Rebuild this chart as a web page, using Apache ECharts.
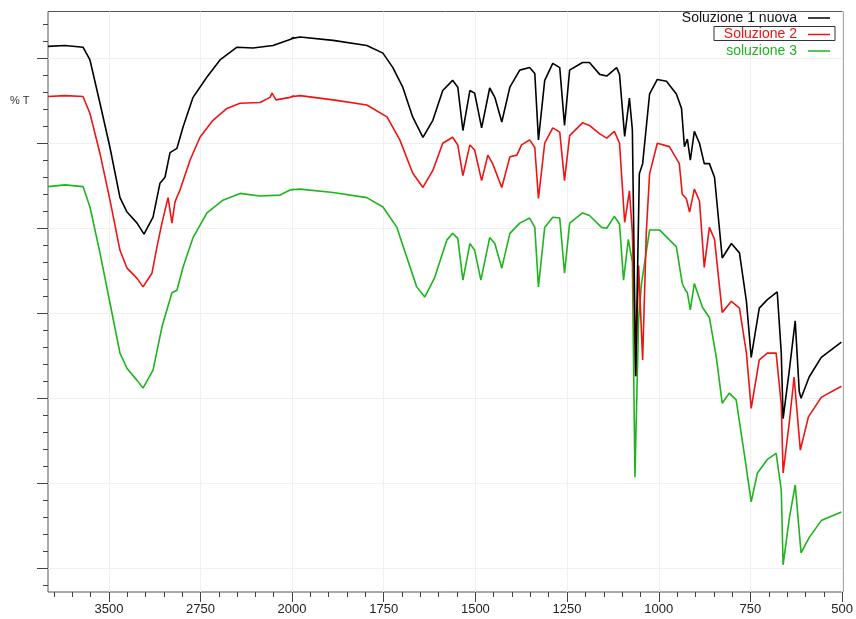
<!DOCTYPE html>
<html><head><meta charset="utf-8">
<script src="https://cdn.jsdelivr.net/npm/echarts@6/dist/echarts.min.js"></script>
<style>html,body{margin:0;padding:0;background:#fff}#c{width:856px;height:619px}</style>
</head><body><div id="c"></div>
<script>
// Series names
const seriesNames = ['Soluzione 1 nuova', 'Soluzione 2', 'soluzione 3'];

// Soluzione 1 nuova (black): wavenumber (cm-1) and %T (arbitrary offset units)
const blackWn = [4000,3861,3713,3656,3574,3492,3410,3352,3270,3213,3139,3082,3041,3000,2943,2893,2811,2697,2590,2451,2320,2156,2016,1978,1888,1796,1752,1725,1698,1671,1643,1616,1589,1562,1548,1534,1515,1502,1483,1461,1447,1428,1406,1379,1352,1338,1328,1311,1289,1270,1257,1243,1208,1189,1161,1142,1115,1107,1093,1080,1072,1063,1053,1044,1025,1004,979,952,938,930,922,914,903,889,876,862,848,827,802,780,761,748,726,704,677,666,661,644,628,617,612,590,557,502];
const blackT  = [61.4,61.5,61.3,59.8,54.7,49.5,43.6,41.9,40.6,39.3,41.3,45.3,46.0,48.9,49.4,51.9,55.4,57.8,59.8,61.3,61.2,61.5,62.2,62.5,62.1,61.5,60.6,58.9,56.6,53.1,50.7,52.7,56.2,57.4,56.6,51.5,56.2,55.9,51.8,56.5,55.4,52.5,56.6,58.6,58.9,58.2,50.4,57.4,59.4,58.9,52.1,58.6,59.5,59.5,58.1,57.9,58.9,58.1,50.8,55.3,51.6,22.6,46.4,47.6,55.8,57.5,57.3,55.8,54.1,49.6,50.5,48.0,51.4,50.0,47.6,47.6,46.0,36.5,38.2,37.1,31.4,24.8,30.6,31.6,32.5,25.3,17.6,23.3,29.1,20.8,20.0,22.5,24.8,26.6];

// Soluzione 2 (red)
const redWn = [4000,3861,3713,3656,3574,3492,3410,3352,3270,3221,3148,3107,3066,3016,2984,2959,2918,2836,2754,2648,2533,2426,2262,2180,2164,2131,2016,1978,1888,1796,1741,1706,1671,1643,1616,1589,1562,1548,1534,1515,1502,1483,1466,1453,1428,1406,1387,1374,1352,1338,1328,1311,1289,1270,1257,1243,1208,1189,1161,1142,1121,1107,1093,1080,1072,1063,1055,1044,1034,1025,1004,971,944,936,925,916,903,889,876,862,848,827,802,780,761,748,726,704,680,666,661,644,631,614,592,557,502];
const redT  = [55.5,55.6,55.5,53.5,48.8,43.3,37.4,35.3,34.1,33.1,34.7,37.8,40.6,43.6,40.6,43.1,44.5,48.0,50.7,52.7,54.1,54.7,54.8,55.4,55.9,55.1,55.4,55.6,55.1,54.5,53.1,50.4,46.5,44.8,46.8,50.0,50.7,49.8,46.2,49.8,49.2,45.6,48.6,47.6,44.8,48.4,48.6,49.8,50.4,49.5,43.5,50.0,51.8,51.3,45.6,50.9,52.4,52.1,51.1,50.6,51.4,50.0,40.7,44.4,39.5,22.6,35.6,24.5,39.5,46.4,50.0,49.6,47.6,44.0,43.5,41.9,44.6,43.2,35.4,40.1,38.7,30.1,31.4,30.6,25.3,18.8,24.5,25.3,25.3,19.3,11.2,17.2,22.5,13.9,17.8,20.1,21.4];

// soluzione 3 (green)
const greenWn = [4000,3861,3713,3656,3574,3492,3410,3352,3270,3221,3139,3066,2984,2943,2893,2811,2697,2566,2426,2262,2098,2016,1978,1888,1796,1752,1714,1687,1660,1638,1611,1578,1562,1548,1534,1515,1502,1485,1461,1447,1428,1406,1379,1352,1338,1328,1311,1289,1270,1257,1243,1208,1189,1156,1142,1121,1107,1096,1083,1072,1065,1055,1047,1025,998,952,936,927,922,914,903,881,862,843,827,808,789,767,748,731,704,680,666,661,644,628,612,590,557,502];
const greenT  = [44.9,45.1,44.9,42.5,37.1,31.2,25.3,23.5,22.1,21.2,23.3,28.4,32.4,32.7,35.4,38.9,41.8,43.3,44.1,43.8,43.9,44.5,44.6,44.2,43.6,42.5,40.1,36.6,33.1,31.9,34.2,38.6,39.4,38.8,33.9,38.2,37.4,33.9,38.9,38.2,35.3,39.4,40.6,41.2,40.1,33.1,40.1,41.3,41.2,34.7,40.6,41.8,41.5,40.1,40.0,41.4,40.5,33.9,38.7,36.0,10.7,29.2,33.5,39.8,39.8,37.8,33.5,32.7,32.4,30.4,33.5,30.7,29.5,24.8,19.4,20.6,19.8,13.5,7.8,11.2,12.8,13.5,9.2,0.4,5.9,9.8,1.8,3.6,5.6,6.6];

// Tick values
const xLeftMajor = [3500, 2750];
const xLeftMinor = [3950, 3800, 3650, 3350, 3200, 3050, 2900, 2600, 2450, 2300, 2150];
const yMajor = [0, 10, 20, 30, 40, 50, 60];
const yMinor = [-2, 2, 4, 6, 8, 12, 14, 16, 18, 22, 24, 26, 28, 32, 34, 36, 38, 42, 44, 46, 48, 52, 54, 56, 58, 62, 64];

const YMIN = -2.8, YMAX = 65.5;
const colors = ['#000000', '#ee1414', '#1eb41e'];
const seriesData = [
  blackWn.map((w, i) => [w, blackT[i]]),
  redWn.map((w, i) => [w, redT[i]]),
  greenWn.map((w, i) => [w, greenT[i]])
];

const chart = echarts.init(document.getElementById('c'), null, {renderer: 'canvas'});
const font = 'Liberation Sans, Arial, Helvetica, sans-serif';
const tickColor = '#444';
const faint = '#f0f0f0';
const plain = function (v) { return String(v); };

const series = [];
[1, 2].forEach(function (g) {
  seriesNames.forEach(function (name, k) {
    series.push({
      name: name, type: 'line', xAxisIndex: g, yAxisIndex: g,
      data: seriesData[k], showSymbol: false, symbol: 'none',
      color: colors[k], lineStyle: {color: colors[k], width: 1.6},
      clip: true, z: 3 - k
    });
  });
});

const option = {
  animation: false,
  textStyle: {fontFamily: font},
  grid: [
    {left: 48, right: 13, top: 11.5, bottom: 27, show: true, borderColor: '#555', borderWidth: 1, backgroundColor: 'rgba(0,0,0,0)'},
    {left: 48, width: 244, top: 11.5, bottom: 27},
    {left: 292, right: 13, top: 11.5, bottom: 27},
    {left: 48, width: 244, top: 11.5, bottom: 27}
  ],
  xAxis: [
    {gridIndex: 0, type: 'value', min: 0, max: 1, show: false},
    {gridIndex: 1, type: 'value', min: 2000, max: 4000, interval: 750, inverse: true, position: 'bottom',
      axisLine: {show: false, onZero: false},
      axisTick: {show: true, customValues: xLeftMajor, length: 10, lineStyle: {color: tickColor}},
      axisLabel: {show: true, customValues: xLeftMajor, formatter: plain, fontSize: 13, color: '#222', margin: 11, fontFamily: font},
      splitLine: {show: true, lineStyle: {color: faint}}},
    {gridIndex: 2, type: 'value', min: 500, max: 2000, interval: 250, inverse: true, position: 'bottom',
      axisLine: {show: false, onZero: false},
      axisTick: {show: true, length: 10, lineStyle: {color: tickColor}},
      minorTick: {show: true, splitNumber: 5, length: 5, lineStyle: {color: tickColor}},
      axisLabel: {show: true, formatter: plain, fontSize: 13, color: '#222', margin: 11, fontFamily: font},
      splitLine: {show: true, lineStyle: {color: faint}}},
    {gridIndex: 3, type: 'value', min: 2000, max: 4000, inverse: true, position: 'bottom',
      axisLine: {show: false, onZero: false},
      axisTick: {show: true, customValues: xLeftMinor, length: 5, lineStyle: {color: tickColor}},
      axisLabel: {show: false}, splitLine: {show: false}}
  ],
  yAxis: [
    {gridIndex: 0, type: 'value', min: 0, max: 1, show: false},
    {gridIndex: 1, type: 'value', min: YMIN, max: YMAX, position: 'left',
      axisLine: {show: false, onZero: false},
      axisTick: {show: true, customValues: yMajor, length: 11, lineStyle: {color: tickColor}},
      axisLabel: {show: false},
      splitLine: {show: true, lineStyle: {color: faint}}},
    {gridIndex: 2, type: 'value', min: YMIN, max: YMAX, position: 'left',
      axisLine: {show: false, onZero: false},
      axisTick: {show: false, customValues: yMajor},
      axisLabel: {show: false, customValues: yMajor},
      splitLine: {show: true, lineStyle: {color: faint}}},
    {gridIndex: 3, type: 'value', min: YMIN, max: YMAX, position: 'left',
      axisLine: {show: false, onZero: false},
      axisTick: {show: true, customValues: yMinor, length: 5, lineStyle: {color: tickColor}},
      axisLabel: {show: false}, splitLine: {show: false}}
  ],
  legend: {
    orient: 'vertical', right: 21, top: 6, align: 'right',
    itemWidth: 22, itemHeight: 1.5, itemGap: 2.5, icon: 'rect',
    selectedMode: false,
    textStyle: {fontSize: 14, fontFamily: font, lineHeight: 14, padding: [0, 6, 0, 0]},
    data: [
      {name: seriesNames[0], textStyle: {color: '#111'}},
      {name: seriesNames[1], textStyle: {color: colors[1]}},
      {name: seriesNames[2], textStyle: {color: colors[2]}}
    ]
  },
  graphic: [
    {type: 'text', left: 10, top: 95, style: {text: '% T', fontSize: 11, fill: '#333', fontFamily: font}},
    {type: 'rect', shape: {x: 714, y: 26.5, width: 121, height: 14}, style: {fill: 'none', stroke: '#333', lineWidth: 1}, z: 100}
  ],
  series: series
};
chart.setOption(option);
</script>
</body></html>
